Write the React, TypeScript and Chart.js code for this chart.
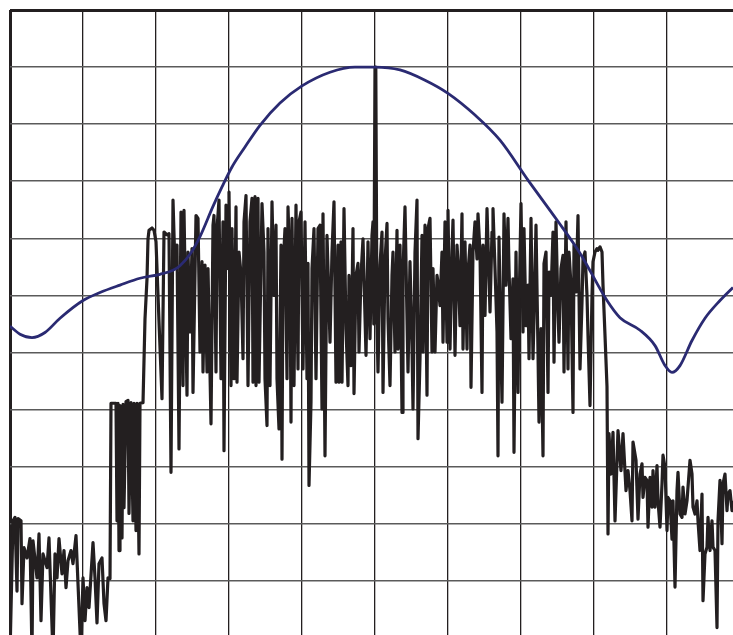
import React, { useEffect, useRef } from "react";
import { Chart, registerables } from "chart.js";

Chart.register(...registerables);

// Horizontal axis: trace sample bins; vertical axis: level in dB (0 = reference level)
const X_MAX = 723;
const Y_MIN = -109.5;
const Y_MAX = 0;
const GRID_X_STEP = 73;
const GRID_Y_STEP = 10;

// Measured trace, split into sections [bin, dB]
const floorLeft: number[][] = [
  [0, -113], [3, -89.5], [5, -88.9], [7, -101.8], [8, -89.1], [11, -89.5], [12, -104.0],
  [14, -94.2], [17, -96.0], [20, -92.6], [22, -113], [23, -93.0], [27, -99.5], [29, -91.8],
  [31, -107.0], [33, -95.3], [37, -97.7], [39, -92.5], [43, -113], [45, -95.3], [47, -99.5],
  [49, -92.6], [52, -98.8], [54, -94.7], [56, -101.2], [58, -96.5], [61, -94.7], [63, -97.0],
  [66, -92.1], [68, -100.5], [71, -113], [73, -99.5], [75, -107.0], [77, -101.2], [79, -104.7],
  [83, -93.3], [85, -99.5], [87, -107.4], [89, -97.0], [92, -96.0], [94, -104.0], [96, -107.0],
  [98, -99.5], [100, -99.6],
];

const shoulderLeft: number[][] = [
  [101, -68.9], [106, -68.9], [107, -89.5], [108, -68.9], [109, -94.7], [110, -69.3],
  [112, -92.5], [113, -69.1], [114, -87.2], [116, -68.6], [118, -68.4], [119, -88.2],
  [121, -68.8], [123, -89.5], [124, -68.9], [126, -91.2], [127, -68.9], [129, -95.3],
  [130, -68.9], [133, -68.8], [135, -54.1], [137, -47.1], [138, -40.1], [139, -38.6],
  [142, -38.2], [144, -38.6], [146, -40.6], [148, -50.0], [152, -68.1],
];

const bandA: number[][] = [
  [154, -38.9], [157, -39.4], [159, -39.2], [161, -81.0], [163, -33.3], [165, -45.3],
  [167, -41.2], [169, -76.9], [171, -35.4], [173, -65.8], [174, -35.1], [177, -67.5],
  [178, -42.4], [180, -56.4], [182, -41.8], [183, -67.0], [186, -36.0], [188, -36.5],
  [190, -59.9], [192, -44.1], [193, -63.4], [195, -44.7], [197, -63.4], [198, -45.3],
  [201, -72.5], [203, -37.7], [204, -36.0], [206, -63.4], [207, -38.3], [209, -33.3],
  [211, -64.6], [213, -37.1], [214, -77.2], [216, -34.2], [218, -45.3], [219, -31.9],
  [221, -65.8], [222, -38.3], [224, -64.6], [226, -34.5], [227, -65.2], [229, -42.4],
  [231, -46.2], [233, -61.1], [234, -37.1], [236, -32.5], [238, -65.8], [240, -37.1],
  [242, -33.0], [243, -65.2], [245, -32.7], [246, -65.8],
];

const bandB: number[][] = [
  [248, -33.0], [249, -65.2], [252, -33.9], [254, -42.4], [255, -64.6], [257, -72.8],
  [258, -38.3], [260, -65.8], [262, -33.6], [264, -50.0], [266, -37.7], [267, -64.6],
  [269, -73.4], [271, -41.2], [272, -78.7], [273, -45.3], [275, -38.3], [277, -64.6],
  [278, -34.5], [280, -45.9], [281, -72.2], [282, -36.5], [284, -65.8], [286, -34.2],
  [288, -62.9], [289, -37.1], [291, -35.4], [293, -62.9], [295, -37.1], [297, -64.6],
  [298, -44.4], [299, -83.3], [301, -68.7], [302, -45.3], [304, -38.3], [306, -64.6],
  [308, -38.3], [310, -37.7], [312, -69.9], [313, -35.7], [315, -78.1], [317, -39.5],
  [318, -45.3], [320, -58.2], [322, -42.4], [324, -33.6], [326, -65.2], [328, -41.2],
  [329, -65.2], [331, -40.6], [332, -65.2], [334, -34.8], [336, -55.8], [338, -65.8],
  [339, -46.5], [341, -62.3], [343, -38.3], [344, -67.2], [346, -46.5], [348, -44.4],
  [349, -59.9], [351, -46.5], [353, -40.1], [356, -60.5], [358, -40.6], [360, -57.6],
  [362, -39.5], [363, -37.1], [363.8, -55.0],
];

const carrier: number[][] = [
  [365, -10.0], [365.8, -10.3], [367, -55.0],
];

const bandC: number[][] = [
  [368, -63.4], [370, -44.7], [372, -38.9], [373, -67.0], [375, -44.1], [377, -37.4],
  [378, -54.1], [380, -65.8], [382, -46.5], [383, -42.4], [385, -59.9], [387, -38.6],
  [388, -59.4], [390, -41.2], [392, -70.5], [393, -45.9], [395, -34.5], [397, -54.1],
  [398, -63.4], [400, -44.1], [402, -58.8], [403, -69.9], [405, -42.4], [407, -33.3],
  [408, -75.1], [410, -61.1], [412, -39.5], [413, -59.9], [415, -37.7], [417, -67.5],
  [418, -38.3], [420, -36.5], [422, -59.9], [423, -45.3], [425, -59.9], [427, -46.5],
  [428, -47.7], [430, -51.8], [432, -42.4], [433, -58.2], [435, -37.1], [437, -58.2],
  [438, -35.1], [440, -59.4], [442, -42.4], [443, -36.8], [445, -60.5], [447, -41.2],
  [448, -44.1], [450, -55.3], [452, -35.7], [453, -59.4], [455, -40.6], [457, -59.4],
  [458, -45.9], [460, -41.2], [461, -66.1], [463, -42.4], [465, -37.1], [467, -43.6],
  [468, -35.7], [470, -42.4], [472, -67.0], [473, -41.2], [475, -53.5], [477, -34.8],
];

const bandD: number[][] = [
  [480, -52.9], [482, -38.9], [483, -34.8], [485, -45.3], [487, -56.4], [488, -78.1],
  [489, -39.8], [491, -59.9], [492, -68.7], [494, -35.7], [496, -48.2], [498, -36.5],
  [499, -45.3], [501, -57.6], [503, -47.1], [504, -77.5], [506, -42.4], [508, -67.0],
  [509, -52.9], [511, -33.9], [513, -56.4], [514, -38.3], [516, -55.3], [518, -48.2],
  [519, -61.1], [521, -36.5], [523, -61.1], [524, -54.1], [526, -37.7], [528, -59.9],
  [529, -72.2], [531, -55.8], [533, -78.1], [534, -44.4], [536, -42.4], [538, -67.0],
  [539, -45.9], [541, -50.0], [543, -38.9], [544, -61.7], [546, -37.1], [548, -52.9],
  [549, -58.2], [551, -45.3], [553, -43.0], [554, -63.4], [556, -37.1], [558, -62.9],
  [559, -42.4], [561, -48.2], [563, -70.5], [564, -41.2], [566, -49.4], [568, -36.0],
  [570, -62.9], [572, -51.2], [573, -43.6], [575, -42.4], [577, -50.0], [578, -57.0],
  [580, -69.3], [582, -50.0], [583, -44.1], [585, -42.4], [587, -41.8], [588, -42.1],
  [590, -41.5], [592, -42.4], [593, -48.2], [595, -57.0], [597, -66.0],
];

const floorRight: number[][] = [
  [598, -91.8], [599, -74.2], [601, -81.3], [603, -74.0], [605, -89.5], [608, -73.7],
  [611, -80.7], [613, -74.2], [616, -84.2], [618, -80.7], [620, -84.2], [622, -89.5],
  [623, -75.7], [626, -78.9], [628, -89.2], [630, -81.3], [632, -79.5], [633, -85.4],
  [635, -81.9], [637, -82.4], [638, -90.6], [640, -81.9], [642, -87.1], [643, -80.7],
  [645, -87.1], [647, -79.8], [648, -86.0], [650, -90.6], [652, -83.0], [653, -78.0],
  [655, -80.1], [657, -91.2], [658, -85.4], [660, -86.0], [662, -92.7], [663, -86.0],
  [665, -101.1], [667, -84.2], [668, -81.0], [670, -88.3], [672, -88.9], [673, -83.6],
  [675, -88.3], [677, -86.0], [678, -83.6], [680, -78.9], [682, -81.3], [683, -87.1],
  [685, -88.3], [687, -86.0], [688, -89.5], [690, -94.7], [692, -84.8], [693, -103.5],
  [695, -95.3], [697, -94.1], [698, -88.9], [700, -94.7], [702, -89.5], [703, -94.1],
  [705, -94.7], [707, -108.2], [708, -89.5], [710, -82.4], [712, -93.5], [713, -83.0],
  [715, -81.3], [717, -87.7], [718, -84.8], [720, -84.2], [722, -87.7], [723, -86.0],
];

// Smooth envelope / mask curve [bin, dB]
const envelope: number[][] = [
  [0, -55.4], [10, -56.8], [22, -57.4], [35, -56.5], [50, -54.0], [73, -50.9], [90, -49.5],
  [110, -48.2], [130, -47.0], [150, -46.3], [163, -45.6], [170, -44.8], [180, -42.8],
  [190, -39.7], [203, -34.4], [212, -31.0], [222, -27.5], [235, -24.0], [250, -20.2],
  [270, -16.3], [292, -13.3], [320, -10.9], [345, -10.0], [365, -10.0], [390, -10.5],
  [415, -12.3], [438, -14.6], [465, -18.4], [490, -22.8], [518, -29.8], [547, -36.8],
  [570, -42.6], [597, -50.9], [610, -53.9], [630, -56.1], [645, -58.8], [655, -62.3],
  [662, -63.5], [670, -62.3], [682, -57.9], [695, -54.0], [710, -50.9], [723, -48.6],
];

const TRACE_COLOR = "#231f20";
const ENVELOPE_COLOR = "#2a2a72";

const onStep = (v: number, step: number) => Math.abs(v / step - Math.round(v / step)) < 1e-6;

export default function App() {
  const ref = useRef<HTMLCanvasElement | null>(null);

  useEffect(() => {
    if (!ref.current) return;
    const trace = [
      ...floorLeft, ...shoulderLeft, ...bandA, ...bandB, ...carrier, ...bandC, ...bandD, ...floorRight,
    ].map(([x, y]) => ({ x, y }));
    const env = envelope.map(([x, y]) => ({ x, y }));

    const chart = new Chart(ref.current, {
      type: "line",
      data: {
        datasets: [
          {
            data: env,
            borderColor: ENVELOPE_COLOR,
            borderWidth: 2.8,
            pointRadius: 0,
            cubicInterpolationMode: "monotone",
            fill: false,
          },
          {
            data: trace,
            borderColor: TRACE_COLOR,
            borderWidth: 3.2,
            pointRadius: 0,
            tension: 0,
            borderJoinStyle: "round",
            fill: false,
          },
        ],
      },
      options: {
        animation: false,
        responsive: false,
        events: [],
        layout: { padding: { left: 10, top: 10, right: 0, bottom: 0 } },
        plugins: { legend: { display: false }, tooltip: { enabled: false } },
        scales: {
          x: {
            type: "linear",
            min: 0,
            max: X_MAX,
            border: { display: false },
            ticks: { display: false, stepSize: GRID_X_STEP },
            grid: {
              drawTicks: false,
              color: TRACE_COLOR,
              lineWidth: (ctx: any) => (ctx.tick && ctx.tick.value === 0 ? 3 : 1.3),
            },
            afterBuildTicks: (s: any) => {
              s.ticks = s.ticks.filter((t: any) => onStep(t.value, GRID_X_STEP));
            },
          },
          y: {
            type: "linear",
            min: Y_MIN,
            max: Y_MAX,
            border: { display: false },
            ticks: { display: false, stepSize: GRID_Y_STEP },
            grid: {
              drawTicks: false,
              color: (ctx: any) => (ctx.tick && ctx.tick.value === 0 ? TRACE_COLOR : "#5a5a5a"),
              lineWidth: (ctx: any) => (ctx.tick && ctx.tick.value === 0 ? 3 : 1.5),
            },
            afterBuildTicks: (s: any) => {
              s.ticks = s.ticks.filter((t: any) => onStep(t.value, GRID_Y_STEP));
            },
          },
        },
      },
    });
    return () => chart.destroy();
  }, []);

  return (
    <div style={{ position: "fixed", left: 0, top: 0, width: 733, height: 635, background: "#fff" }}>
      <canvas ref={ref} width={733} height={635} style={{ display: "block" }} />
    </div>
  );
}
